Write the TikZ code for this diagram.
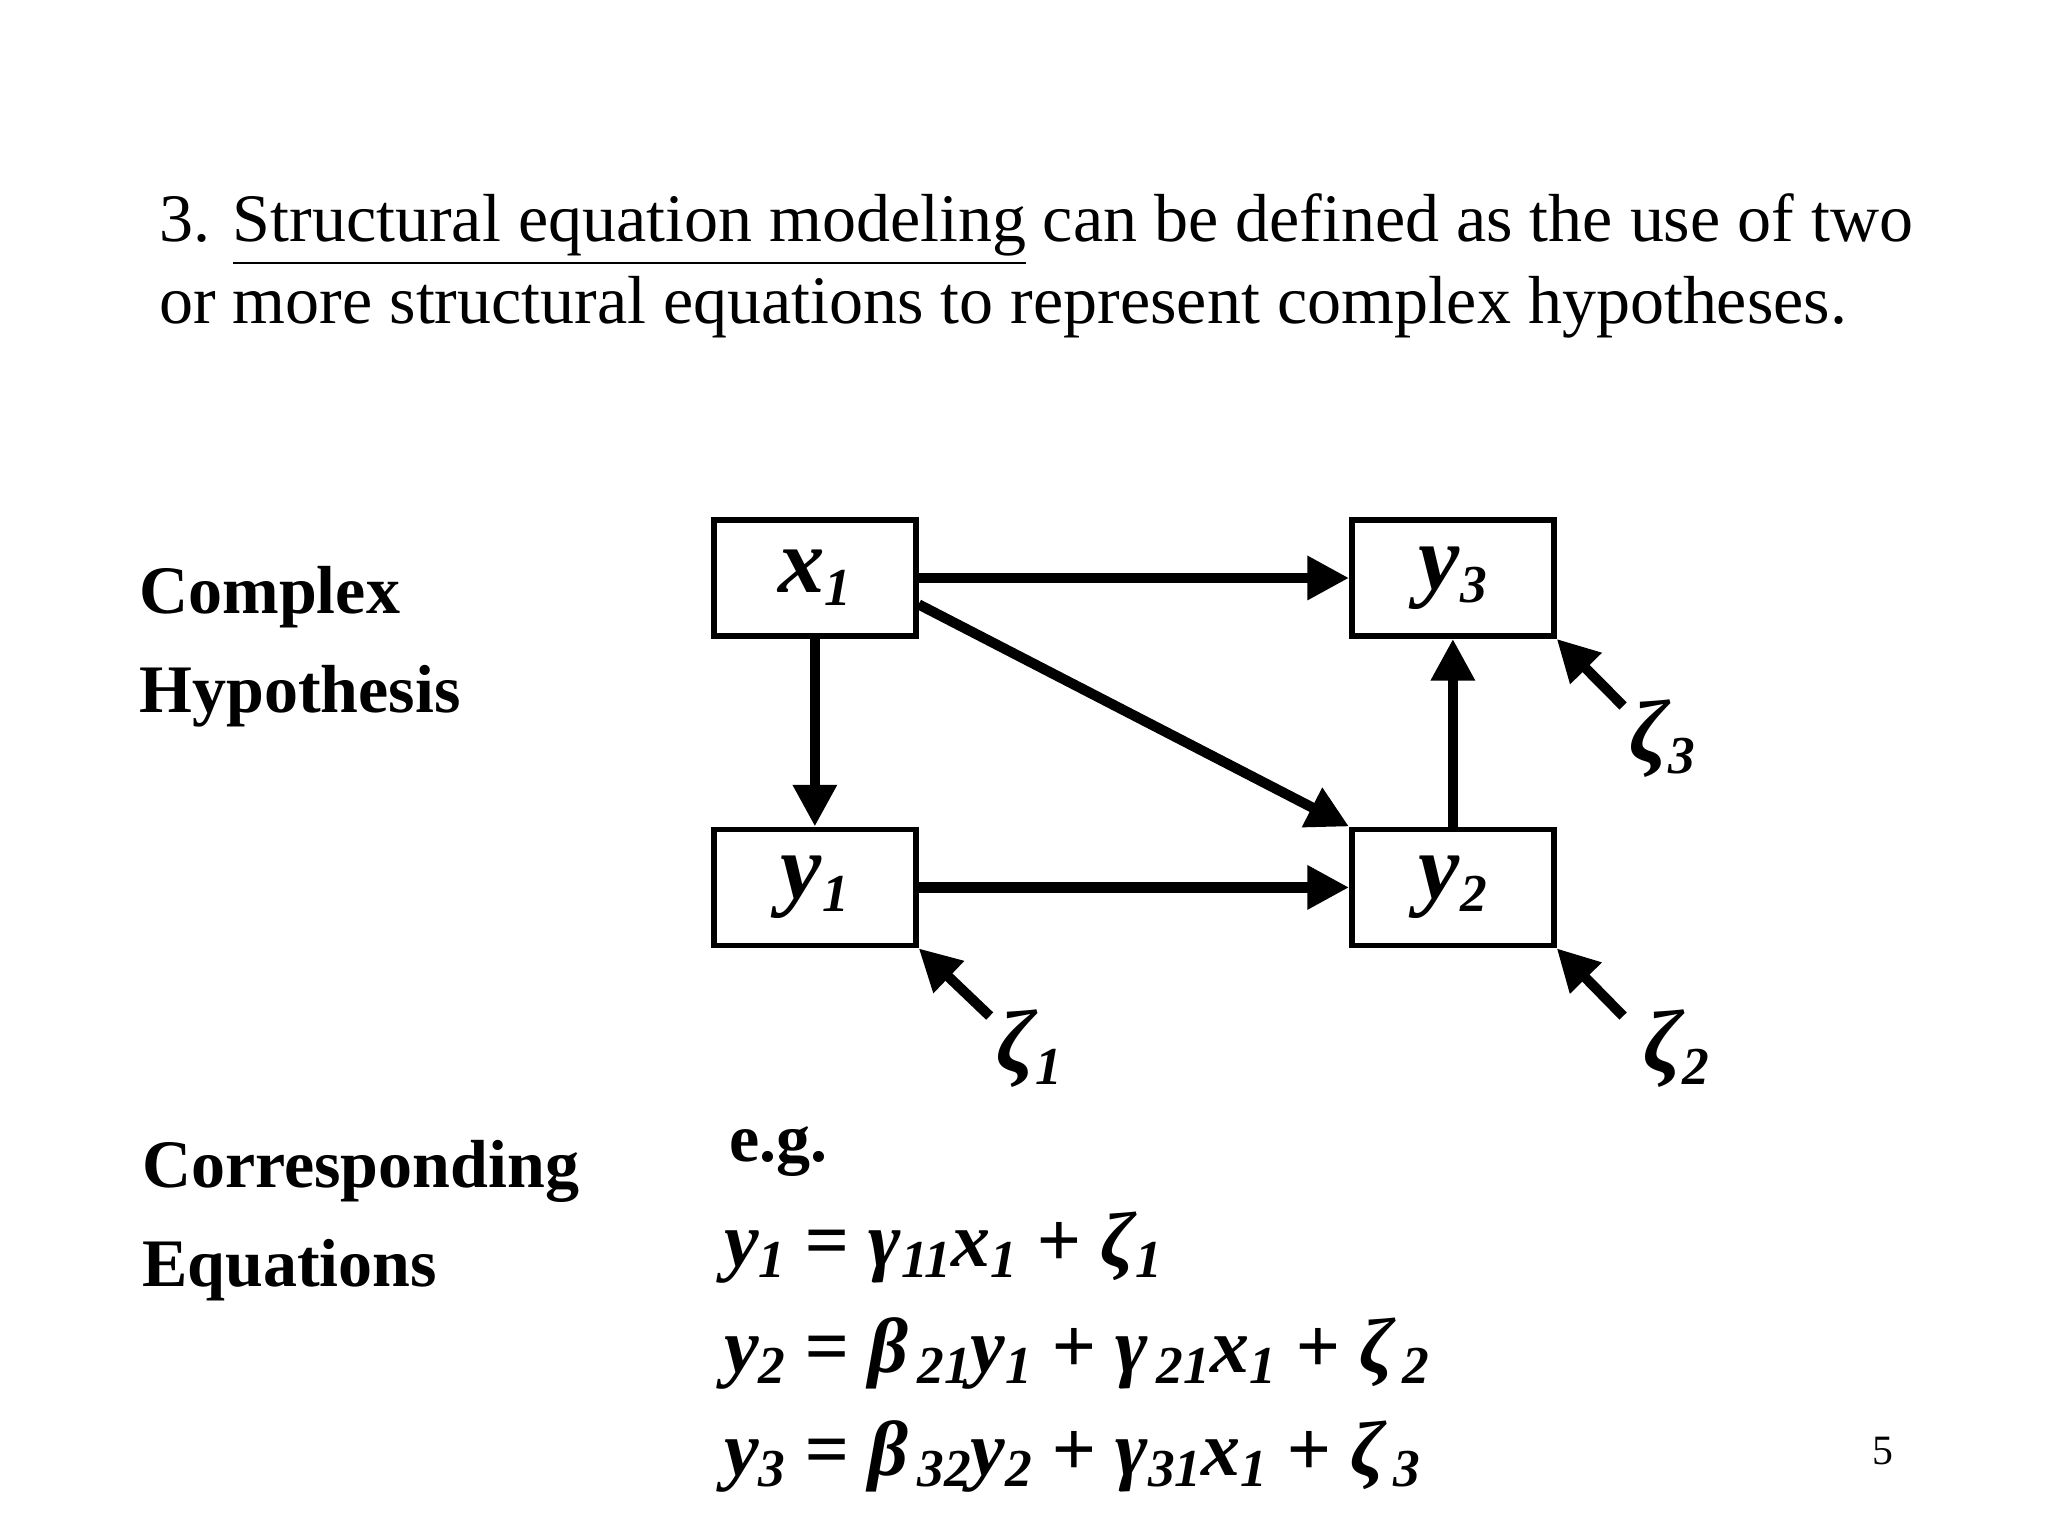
\documentclass[tikz,border=0pt]{standalone}
\usepackage{fontspec}
\setmainfont{Liberation Serif}
\usetikzlibrary{arrows.meta}
\begin{document}
\begin{tikzpicture}[x=0.01cm,y=-0.01cm,
 box/.style={draw,line width=1.2pt,minimum width=1.53cm,minimum height=0.88cm,inner sep=0,font=\fontsize{20}{24}\selectfont\bfseries\itshape},
 arr/.style={line width=2.2pt,-{Triangle[length=9pt,width=9pt]}},
 txt/.style={anchor=base west,inner sep=0,font=\fontsize{14.65}{17}\selectfont},
 lab/.style={anchor=base west,inner sep=0,font=\fontsize{14.65}{17}\selectfont\bfseries},
 eq/.style={anchor=base west,inner sep=0,font=\fontsize{16.8}{20}\selectfont\bfseries\itshape},
 zt/.style={inner sep=0,font=\fontsize{19}{24}\selectfont\bfseries\itshape}]
\useasboundingbox (0,0) rectangle (1552,1164);
\newcommand{\sbs}[1]{\raisebox{-0.3ex}{\fontsize{11.5}{14}\selectfont #1}}
\node[txt] (t1) at (120,183) {3. \underline{Structural equation modeling} can be defined as the use of two};
\node[txt] (t2) at (120,245) {or more structural equations to represent complex hypotheses.};
\node[lab] (c1) at (105,465) {Complex};
\node[lab] (c2) at (105,540) {Hypothesis};
\node[lab] (c3) at (107,900) {Corresponding};
\node[lab] (c4) at (107,975) {Equations};
\node[box] (x1) at (617.5,438) {x\sbs{1}};
\node[box] (y3) at (1101,438) {y\sbs{3}};
\node[box] (y1) at (617.5,672.5) {y\sbs{1}};
\node[box] (y2) at (1101,672.5) {y\sbs{2}};
\draw[arr] (x1.east) -- (y3.west);
\draw[arr] (x1.south) -- (y1.north);
\draw[arr] (y1.east) -- (y2.west);
\draw[arr] (y2.north) -- (y3.south);
\draw[arr] (x1.north east |- 0,458) -- (y2.north west);
\coordinate (z1s) at (750,770);
\coordinate (z3s) at (1230,535);
\coordinate (z2s) at (1230,770);
\draw[arr] (z1s) -- (y1.south east);
\draw[arr] (z3s) -- (y3.south east);
\draw[arr] (z2s) -- (y2.south east);
\node[zt] (zeta1) at (780,795) {ζ\sbs{1}};
\node[zt] (zeta3) at (1260,560) {ζ\sbs{3}};
\node[zt] (zeta2) at (1270,795) {ζ\sbs{2}};
\node[lab] (eg) at (552,880) {e.g.};
\node[eq] (e1) at (548,960) {y\sbs{1} = γ\sbs{11}x\sbs{1} + ζ\sbs{1}};
\node[eq] (e2) at (548,1040) {y\sbs{2} = β\sbs{\,21}y\sbs{1} + γ\sbs{\,21}x\sbs{1} + ζ\sbs{\,2}};
\node[eq] (e3) at (548,1118) {y\sbs{3} = β\sbs{\,32}y\sbs{2} + γ\sbs{31}x\sbs{1} + ζ\sbs{\,3}};
\node[anchor=base,inner sep=0,font=\fontsize{9}{10}\selectfont] (pg) at (1427,1110) {5};
\end{tikzpicture}
\end{document}
